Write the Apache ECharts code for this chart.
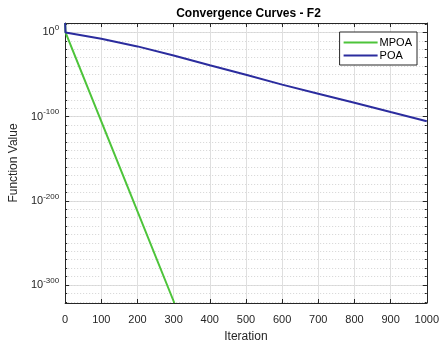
<!DOCTYPE html>
<html><head><meta charset="utf-8">
<script src="https://cdn.jsdelivr.net/npm/echarts@6/dist/echarts.min.js"></script>
<style>html,body{margin:0;padding:0;background:#fff}#c{width:442px;height:348px}</style>
</head><body><div id="c"></div>
<script>
// values are log10 of the function value (plotted on a log-style exponent axis)
const iterMPOA = [0, 1, 150, 302];
const expMPOA  = [11.2, 0, -159, -321.4];
const iterPOA  = [0, 1, 100, 200, 300, 400, 500, 600, 700, 800, 900, 1000];
const expPOA   = [11.2, 0, -7.6, -16.6, -27.4, -39, -50.3, -62, -72.8, -83.5, -94.6, -105.6];
const xTicks = [0,100,200,300,400,500,600,700,800,900,1000];
const yMajor = [0, -100, -200, -300];
const yMin = -321.4, yMax = 11.2;

const font = 'Liberation Sans, Arial, sans-serif';
const axisCol = '#262626';
const chart = echarts.init(document.getElementById('c'), null, {renderer:'canvas'});
const pairs = (xs, ys) => xs.map((x,i)=>[x, ys[i]]);
const yCommon = {type:'value', min:yMin, max:yMax, position:'left'};
chart.setOption({
  animation:false,
  backgroundColor:'#fff',
  title:{text:'Convergence Curves - F2', left:243.5, top:3, textAlign:'center',
    textStyle:{fontFamily:font, fontSize:12, fontWeight:'bold', color:'#000'}},
  grid:{left:60, right:15, top:23, bottom:37},
  legend:{orient:'vertical', right:25, top:32, data:['MPOA','POA'],
    icon:'rect',
    backgroundColor:'#fff', borderColor:'#262626', borderWidth:1, padding:[4,5,3,4],
    itemGap:0, itemWidth:34, itemHeight:2,
    textStyle:{fontFamily:font, fontSize:11, color:'#000', padding:[0,0,0,-3], lineHeight:13}},
  xAxis:[
    {type:'value', min:0, max:1000, interval:100, position:'bottom',
     name:'Iteration', nameLocation:'middle', nameGap:28,
     nameTextStyle:{fontFamily:font, fontSize:12, color:'#262626'},
     axisLine:{onZero:false, lineStyle:{color:axisCol, width:1}},
     axisTick:{inside:true, length:4, lineStyle:{color:axisCol}},
     axisLabel:{fontFamily:font, fontSize:11, color:'#262626', margin:11,
       formatter:v=> xTicks.includes(v)? String(v):''},
     splitLine:{show:true, lineStyle:{color:'#dfdfdf', width:1}}},
    {type:'value', min:0, max:1000, interval:100, position:'top',
     axisLine:{show:true, onZero:false, lineStyle:{color:axisCol}},
     axisTick:{inside:true, length:4, lineStyle:{color:axisCol}},
     axisLabel:{show:false}, splitLine:{show:false}}
  ],
  yAxis:[
    Object.assign({}, yCommon, {splitNumber:3,
     name:'Function Value', nameLocation:'middle', nameGap:45,
     nameTextStyle:{fontFamily:font, fontSize:12, color:'#262626'},
     axisLine:{show:true, onZero:false, lineStyle:{color:axisCol}},
     axisTick:{inside:true, length:4, lineStyle:{color:axisCol}},
     axisLabel:{margin:6, showMinLabel:false, showMaxLabel:false,
       formatter:v=> yMajor.includes(Math.round(v)) && Math.abs(v-Math.round(v))<1e-6 ? '{b|10}{s|'+Math.round(v)+'}' : '',
       rich:{b:{fontFamily:font, fontSize:11, color:'#262626'},
             s:{fontFamily:font, fontSize:8, color:'#262626', padding:[0,0,9,0]}}},
     splitLine:{show:true, lineStyle:{color:'#dfdfdf', width:1}}}),
    Object.assign({}, yCommon, {splitNumber:33,
     axisLine:{show:false, onZero:false}, axisTick:{inside:true, length:2, lineStyle:{color:axisCol}},
     axisLabel:{show:false},
     splitLine:{show:true, lineStyle:{color:'#d4d4d4', width:1, type:[1,2]}}}),
    Object.assign({}, yCommon, {position:'right', splitNumber:3,
     axisLine:{show:true, onZero:false, lineStyle:{color:axisCol}},
     axisTick:{inside:true, length:4, lineStyle:{color:axisCol}},
     axisLabel:{show:false}, splitLine:{show:false}}),
    Object.assign({}, yCommon, {position:'right', splitNumber:33,
     axisLine:{show:false, onZero:false}, axisTick:{inside:true, length:2, lineStyle:{color:axisCol}},
     axisLabel:{show:false}, splitLine:{show:false}})
  ],
  series:[
    {name:'MPOA', type:'line', data:pairs(iterMPOA, expMPOA), symbol:'none',
     lineStyle:{color:'#4dc43a', width:2}, itemStyle:{color:'#4dc43a'}, z:3},
    {name:'POA', type:'line', data:pairs(iterPOA, expPOA), symbol:'none',
     lineStyle:{color:'#2b2c9e', width:2}, itemStyle:{color:'#2b2c9e'}, z:4}
  ]
});
</script></body></html>
